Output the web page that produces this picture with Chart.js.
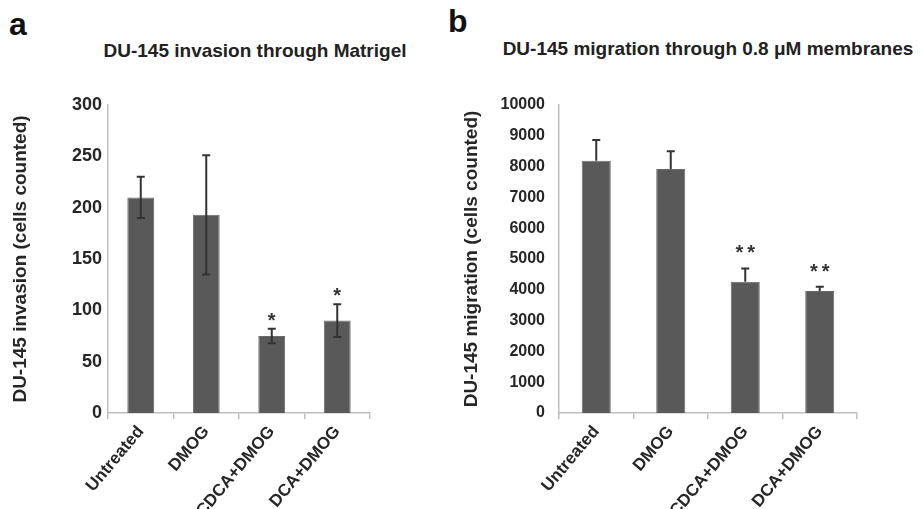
<!DOCTYPE html>
<html>
<head>
<meta charset="utf-8">
<script src="https://cdn.jsdelivr.net/npm/chart.js@4.4.0/dist/chart.umd.min.js"></script>
<style>
  body { margin: 0; background: #fff; width: 921px; height: 509px; overflow: hidden; position: relative;
         font-family: "Liberation Sans", Arial, sans-serif; }
  canvas { position: absolute; top: 0; }
  #invasionChart { left: 0; }
  #migrationChart { left: 460px; }
  .panel { position: absolute; font-weight: bold; font-size: 32px; color: #111; line-height: 1; }
  .title { position: absolute; font-weight: bold; font-size: 19px; color: #222; white-space: nowrap;
           transform: translate(-50%, -50%); line-height: 1; }
</style>
</head>
<body>
<div class="panel" style="left:9px; top:8px;">a</div>
<div class="panel" style="left:448px; top:5px;">b</div>
<div class="title" style="left:255px; top:50px;">DU-145 invasion through Matrigel</div>
<div class="title" style="left:708px; top:48px;">DU-145 migration through 0.8 μM membranes</div>
<canvas id="invasionChart" width="460" height="509"></canvas>
<canvas id="migrationChart" width="461" height="509"></canvas>
<script>
// Treatments on the x axis (same for both panels)
const categories = ["Untreated", "DMOG", "CDCA+DMOG", "DCA+DMOG"];

// Panel a: invasion through Matrigel (cells counted)
const invasionMeans = [210, 193, 75, 90];
const invasionErrors = [20, 58, 7, 16];
const invasionMarks = ["", "", "*", "*"];
const invasionTicks = [0, 50, 100, 150, 200, 250, 300];

// Panel b: migration through 0.8 uM membranes (cells counted)
const migrationMeans = [8190, 7920, 4260, 3960];
const migrationErrors = [670, 575, 435, 140];
const migrationMarks = ["", "", "**", "**"];
const migrationTicks = [0, 1000, 2000, 3000, 4000, 5000, 6000, 7000, 8000, 9000, 10000];

const FONT = '"Liberation Sans", Arial, sans-serif';
Chart.defaults.font.family = FONT;
Chart.defaults.color = '#262626';

/**
 * Draws the error bars and the significance asterisks on top of the bars.
 */
const errorBarPlugin = {
  id: 'errorBars',
  afterDatasetsDraw: function (chart, args, opts) {
    const ctx = chart.ctx;
    const yScale = chart.scales.y;
    const meta = chart.getDatasetMeta(0);
    ctx.save();
    meta.data.forEach((bar, i) => {
      const mean = opts.means[i];
      const err = opts.errors[i];
      const x = bar.x;
      const top = yScale.getPixelForValue(mean + err);
      const bottom = opts.upperOnly ? yScale.getPixelForValue(mean) : yScale.getPixelForValue(mean - err);
      ctx.strokeStyle = '#333';
      ctx.lineWidth = 2;
      ctx.beginPath();
      ctx.moveTo(x, top);
      ctx.lineTo(x, bottom);
      ctx.moveTo(x - 4, top);
      ctx.lineTo(x + 4, top);
      if (!opts.upperOnly) {
        ctx.moveTo(x - 4, bottom);
        ctx.lineTo(x + 4, bottom);
      }
      ctx.stroke();

      if (opts.marks[i]) {
        ctx.fillStyle = '#333';
        ctx.font = 'bold 20px ' + FONT;
        ctx.textAlign = 'center';
        ctx.textBaseline = 'alphabetic';
        ctx.letterSpacing = opts.markSpacing + 'px';
        ctx.fillText(opts.marks[i], x + opts.markSpacing / 2, top - opts.markGap);
      }
    });
    ctx.restore();
  }
};

function makeChart(canvasId, values, errors, marks, ticks, axisTitle, layout) {
  const ctx = document.getElementById(canvasId);
  return new Chart(ctx, {
    type: 'bar',
    data: {
      labels: categories,
      datasets: [{
        data: values,
        backgroundColor: '#595959',
        borderColor: '#6a6a6a',
        borderWidth: 1,
        barPercentage: layout.barPercentage,
        categoryPercentage: 1
      }]
    },
    options: {
      responsive: false,
      animation: false,
      events: [],
      layout: {
        padding: { top: 105, right: layout.right, bottom: 0, left: 0 }
      },
      plugins: {
        legend: { display: false },
        tooltip: { enabled: false },
        errorBars: {
          means: values,
          errors: errors,
          marks: marks,
          upperOnly: layout.upperOnly,
          markGap: layout.markGap,
          markSpacing: layout.markSpacing
        }
      },
      scales: {
        x: {
          grid: {
            display: true,
            drawOnChartArea: false,
            drawTicks: true,
            tickLength: 6,
            color: '#bfbfbf',
            lineWidth: 1.5,
            offset: true
          },
          border: { display: true, color: '#bfbfbf', width: 1.5 },
          ticks: {
            autoSkip: false,
            minRotation: 50,
            maxRotation: 50,
            padding: 3,
            color: '#262626',
            font: { size: 17, weight: 'bold' }
          },
          afterFit: function (scale) {
            scale.height = 96;
          }
        },
        y: {
          min: ticks[0],
          max: ticks[ticks.length - 1],
          afterBuildTicks: function (scale) {
            scale.ticks = ticks.map(v => ({ value: v }));
          },
          grid: { display: false, drawTicks: false },
          border: { display: true, color: '#bfbfbf', width: 1.5 },
          ticks: {
            padding: layout.tickPad,
            color: '#262626',
            font: { size: layout.yFont, weight: 'bold' },
            callback: function (value) {
              return String(value);
            }
          },
          title: {
            display: true,
            text: axisTitle,
            color: '#262626',
            padding: { top: layout.titlePad, bottom: 0 },
            font: { size: 19, weight: 'bold' }
          },
          afterFit: function (scale) {
            scale.width = layout.yWidth;
          }
        }
      }
    },
    plugins: [errorBarPlugin]
  });
}

makeChart('invasionChart', invasionMeans, invasionErrors, invasionMarks, invasionTicks,
  'DU-145 invasion (cells counted)',
  { right: 90, yWidth: 108, barPercentage: 0.41, upperOnly: false, markGap: 2, markSpacing: 0,
    tickPad: 6, titlePad: 9, yFont: 18 });

makeChart('migrationChart', migrationMeans, migrationErrors, migrationMarks, migrationTicks,
  'DU-145 migration (cells counted)',
  { right: 64, yWidth: 99, barPercentage: 0.39, upperOnly: true, markGap: 9, markSpacing: 4,
    tickPad: 14, titlePad: 0, yFont: 16 });
</script>
</body>
</html>
